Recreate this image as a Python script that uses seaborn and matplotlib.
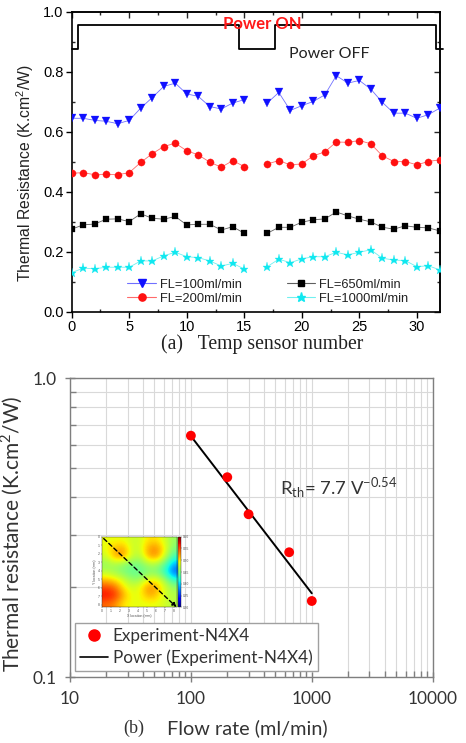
import numpy as np
import pandas as pd
import matplotlib
matplotlib.use("Agg")
import matplotlib.pyplot as plt
import seaborn as sns
from matplotlib.lines import Line2D
from matplotlib.ticker import MultipleLocator, LogLocator, NullFormatter, FixedLocator, FixedFormatter

# ---------------- data: panel (a) ----------------
sensors_left = list(range(0, 16))
sensors_right = list(range(17, 33))
fl100 = [0.645, 0.645, 0.638, 0.635, 0.627, 0.638, 0.679, 0.714, 0.751, 0.762, 0.726, 0.718, 0.684, 0.676, 0.696, 0.707,
         0.696, 0.731, 0.671, 0.687, 0.701, 0.723, 0.787, 0.762, 0.771, 0.742, 0.698, 0.662, 0.662, 0.645, 0.657, 0.679]
fl200 = [0.462, 0.464, 0.457, 0.459, 0.457, 0.464, 0.498, 0.527, 0.551, 0.562, 0.537, 0.523, 0.499, 0.482, 0.504, 0.484,
         0.493, 0.504, 0.490, 0.493, 0.520, 0.533, 0.566, 0.565, 0.571, 0.560, 0.520, 0.501, 0.501, 0.490, 0.501, 0.507]
fl650 = [0.276, 0.290, 0.293, 0.309, 0.310, 0.301, 0.327, 0.312, 0.309, 0.318, 0.290, 0.292, 0.292, 0.273, 0.284, 0.262,
         0.262, 0.282, 0.282, 0.299, 0.307, 0.310, 0.333, 0.320, 0.309, 0.300, 0.282, 0.276, 0.287, 0.282, 0.280, 0.270]
fl1000 = [0.131, 0.146, 0.144, 0.149, 0.149, 0.149, 0.170, 0.170, 0.187, 0.199, 0.184, 0.181, 0.170, 0.153, 0.162, 0.143,
          0.151, 0.176, 0.164, 0.177, 0.184, 0.184, 0.199, 0.190, 0.199, 0.207, 0.179, 0.173, 0.171, 0.151, 0.154, 0.140]
series_labels = ["FL=100ml/min", "FL=200ml/min", "FL=650ml/min", "FL=1000ml/min"]

power_x = [0, 0.57, 0.57, 14.55, 14.55, 17.65, 17.65, 31.7, 31.7, 32.3]
power_y = [0.877, 0.877, 0.957, 0.957, 0.877, 0.877, 0.957, 0.957, 0.877, 0.877]

# ---------------- data: panel (b) ----------------
flow_rate = [100, 200, 300, 650, 1000]
rth_exp = [0.643, 0.467, 0.351, 0.262, 0.180]
trend_x = [100, 1000]
trend_y = [0.641, 0.191]

# inset thermal map (coarse read of the colour map, rows = Y 0..8, cols = X 0..8)
heat_map = [
    [0.49, 0.49, 0.49, 0.48, 0.48, 0.50, 0.50, 0.48, 0.46],
    [0.49, 0.51, 0.52, 0.48, 0.48, 0.52, 0.53, 0.49, 0.45],
    [0.48, 0.52, 0.53, 0.48, 0.47, 0.52, 0.53, 0.48, 0.43],
    [0.46, 0.47, 0.46, 0.45, 0.45, 0.47, 0.47, 0.44, 0.39],
    [0.47, 0.46, 0.45, 0.44, 0.44, 0.45, 0.45, 0.42, 0.36],
    [0.51, 0.50, 0.48, 0.46, 0.46, 0.49, 0.49, 0.46, 0.42],
    [0.55, 0.54, 0.50, 0.48, 0.49, 0.53, 0.52, 0.48, 0.46],
    [0.57, 0.56, 0.52, 0.49, 0.49, 0.52, 0.51, 0.48, 0.47],
    [0.54, 0.53, 0.50, 0.49, 0.49, 0.49, 0.49, 0.48, 0.47],
]

# ---------------- styling ----------------
sns.set_theme(style="ticks")
plt.rcParams["font.family"] = ["Liberation Sans", "DejaVu Sans"]
plt.rcParams["mathtext.fontset"] = "custom"
plt.rcParams["mathtext.rm"] = "Liberation Sans"

fig = plt.figure(figsize=(4.66, 7.43), dpi=100)
fig.patch.set_facecolor("white")

# ================= panel (a) =================
ax = fig.add_axes([0.1539, 0.5801, 0.790, 0.4042])
ax.set_facecolor("white")

styles = [
    dict(color="#1010ff", marker="v", ms=5.6, line="#7070ff"),
    dict(color="#ff1010", marker="o", ms=5.2, line="#ff6a6a"),
    dict(color="#000000", marker="s", ms=4.3, line="#606060"),
    dict(color="#10e8f0", marker="*", ms=6.8, line="#70f0f0"),
]
all_vals = [fl100, fl200, fl650, fl1000]
for vals, st in zip(all_vals, styles):
    for xs, ys in ((sensors_left, vals[:16]), (sensors_right, vals[16:])):
        d = pd.DataFrame({"x": xs, "y": ys})
        sns.lineplot(data=d, x="x", y="y", ax=ax, color=st["line"], linewidth=0.6,
                     marker=st["marker"], markersize=st["ms"], markerfacecolor=st["color"],
                     markeredgecolor=st["color"], markeredgewidth=0.2, zorder=3)

sns.lineplot(x=power_x, y=power_y, ax=ax, color="black", linewidth=1.3, sort=False,
             estimator=None, clip_on=False, zorder=4)

ax.set_xlim(0, 32)
ax.set_ylim(0, 1.0)
ax.xaxis.set_major_locator(MultipleLocator(5))
ax.xaxis.set_minor_locator(MultipleLocator(2.5))
ax.yaxis.set_major_locator(MultipleLocator(0.2))
ax.yaxis.set_minor_locator(MultipleLocator(0.1))
ax.yaxis.set_major_formatter(matplotlib.ticker.FormatStrFormatter("%.1f"))
ax.tick_params(which="major", direction="out", length=4, width=1.0, labelsize=10.5, colors="black", pad=2)
ax.tick_params(which="minor", direction="in", length=2.5, width=1.0)
for s in ax.spines.values():
    s.set_color("black")
    s.set_linewidth(1.2)
ax.set_xlabel("")
ax.set_ylabel("Thermal Resistance (K.cm$^\\mathregular{2}$/W)", fontsize=11.3, color="#222222")
ax.yaxis.set_label_coords(-0.097, 0.463)

# mirrored inward ticks on top & right
sx = ax.secondary_xaxis("top")
sx.xaxis.set_major_locator(MultipleLocator(5))
sx.xaxis.set_minor_locator(MultipleLocator(2.5))
sx.tick_params(which="major", direction="in", length=4, width=1.0, labeltop=False)
sx.tick_params(which="minor", direction="in", length=2.5, width=1.0)
sy = ax.secondary_yaxis("right")
sy.yaxis.set_major_locator(MultipleLocator(0.2))
sy.yaxis.set_minor_locator(MultipleLocator(0.1))
sy.tick_params(which="major", direction="in", length=4, width=1.0, labelright=False)
sy.tick_params(which="minor", direction="in", length=2.5, width=1.0)

ax.text(16.6, 0.960, "Power ON", color="#ff1a1a", fontweight="bold",
        fontsize=12, ha="center", va="center", family=["Lato", "DejaVu Sans"], zorder=5)
ax.text(22.4, 0.860, "Power OFF", color="#222222", fontsize=11.5, ha="center", va="center",
        family=["Lato", "DejaVu Sans"], zorder=5)

handles = [Line2D([], [], color=st["line"], lw=0.8, marker=st["marker"], ms=st["ms"],
                  markerfacecolor=st["color"], markeredgecolor=st["color"]) for st in styles]
leg = ax.legend(handles, series_labels, ncol=2,
                frameon=False, loc="lower left", bbox_to_anchor=(0.13, -0.002),
                fontsize=9.3, handlelength=2.2, handletextpad=0.3, columnspacing=3.5,
                labelspacing=0.15, borderaxespad=0.2)
for t in leg.get_texts():
    t.set_color("#222222")

fig.text(0.5625, 1 - 344 / 743, "(a)   Temp sensor number", ha="center", va="center",
         fontsize=14.2, family=["Liberation Serif", "DejaVu Serif"], color="#222222")

# ================= panel (b) =================
bx = fig.add_axes([0.1502, 0.0884, 0.7783, 0.4024])
bx.set_facecolor("white")
bx.set_xscale("log")
bx.set_yscale("log")
bx.set_xlim(10, 10000)
bx.set_ylim(0.1, 1.0)
bx.grid(True, which="both", color="#d9d9d9", linewidth=0.8)
bx.set_axisbelow(True)

sns.lineplot(x=trend_x, y=trend_y, ax=bx, color="black", linewidth=1.4, zorder=3,
             label="Power (Experiment-N4X4)", legend=False)
sns.scatterplot(x=flow_rate, y=rth_exp, ax=bx, color="#ff0000", s=50, edgecolor="none",
                zorder=4, label="Experiment-N4X4", legend=False)

bx.xaxis.set_major_locator(FixedLocator([10, 100, 1000, 10000]))
bx.xaxis.set_major_formatter(FixedFormatter(["10", "100", "1000", "10000"]))
bx.xaxis.set_minor_locator(LogLocator(base=10, subs=np.arange(2, 10), numticks=20))
bx.xaxis.set_minor_formatter(NullFormatter())
bx.yaxis.set_major_locator(FixedLocator([0.1, 1.0]))
bx.yaxis.set_major_formatter(FixedFormatter(["0.1", "1.0"]))
bx.yaxis.set_minor_locator(LogLocator(base=10, subs=np.arange(2, 10), numticks=20))
bx.yaxis.set_minor_formatter(NullFormatter())
bx.tick_params(which="major", direction="inout", length=7, width=1.0, color="#7f7f7f",
               labelsize=12.5, labelcolor="#333333", pad=6)
bx.tick_params(which="minor", direction="in", length=4, width=1.0, color="#7f7f7f")
for lab in bx.get_xticklabels() + bx.get_yticklabels():
    lab.set_family(["Lato", "DejaVu Sans"])
for s in bx.spines.values():
    s.set_color("#7f7f7f")
    s.set_linewidth(1.0)
bx.set_xlabel("")
bx.set_ylabel("Thermal resistance (K.cm$^\\mathregular{2}$/W)", fontsize=15, color="#333333",
              family=["Lato", "DejaVu Sans"])
bx.yaxis.set_label_coords(-0.125, 0.479)

bx.text(0.58, 0.635, "R$_\\mathregular{th}$= 7.7 V$^\\mathregular{-0.54}$", transform=bx.transAxes,
        fontsize=13.3, color="#333333", family=["Lato", "DejaVu Sans"], ha="left", va="center")

bh = [Line2D([], [], ls="none", marker="o", ms=8, color="#ff0000"),
      Line2D([], [], color="black", lw=1.2)]
bleg = bx.legend(bh, ["Experiment-N4X4", "Power (Experiment-N4X4)"], loc="lower left",
                 bbox_to_anchor=(0.014, 0.02), fontsize=12.3, frameon=True, fancybox=False,
                 edgecolor="#a0a0a0", framealpha=1, handlelength=1.6, handletextpad=0.3,
                 borderpad=0.3, labelspacing=0.35, borderaxespad=0)
bleg.get_frame().set_linewidth(1.0)
for t in bleg.get_texts():
    t.set_color("#333333")
    t.set_family(["Lato", "DejaVu Sans"])

fig.text(123 / 466, 1 - 728 / 743, "(b)", ha="left", va="center", fontsize=13,
         family=["Liberation Serif", "DejaVu Serif"], color="#333333")
fig.text(167 / 466, 1 - 728 / 743, "Flow rate (ml/min)", ha="left", va="center", fontsize=14.3,
         family=["Lato", "DejaVu Sans"], color="#333333")

# inset thermal map
ix = fig.add_axes([101.7 / 466, 1 - 607.3 / 743, 75 / 466, 70.6 / 743])
im = ix.imshow(np.array(heat_map), cmap="jet", vmin=0.30, vmax=0.60, interpolation="bicubic",
               extent=(0, 8.3, 8.3, 0), aspect="auto")
ix.annotate("", xy=(8.5, 8.5), xytext=(0, 0), annotation_clip=False,
            arrowprops=dict(arrowstyle="-|>", color="black", lw=1.0, ls=(0, (3, 2)),
                            mutation_scale=6))
ix.set_xticks(range(0, 9))
ix.set_yticks(range(0, 9))
ix.tick_params(labelsize=2.5, length=1, width=0.3, pad=0.5, colors="#555555")
ix.set_xlabel("X location (mm)", fontsize=2.5, labelpad=0.5, color="#555555")
ix.set_ylabel("Y location (mm)", fontsize=2.5, labelpad=0.5, color="#555555")
for s in ix.spines.values():
    s.set_linewidth(0.3)
cx = fig.add_axes([177.7 / 466, 1 - 607.3 / 743, 3.3 / 466, 70.6 / 743])
cb = fig.colorbar(im, cax=cx)
cb.set_ticks([0.30, 0.35, 0.40, 0.45, 0.50, 0.55, 0.60])
cb.ax.tick_params(labelsize=2.3, length=0.8, width=0.3, pad=0.5, colors="#555555")
cb.outline.set_linewidth(0.3)

fig.savefig("out.png", dpi=100, facecolor="white")
